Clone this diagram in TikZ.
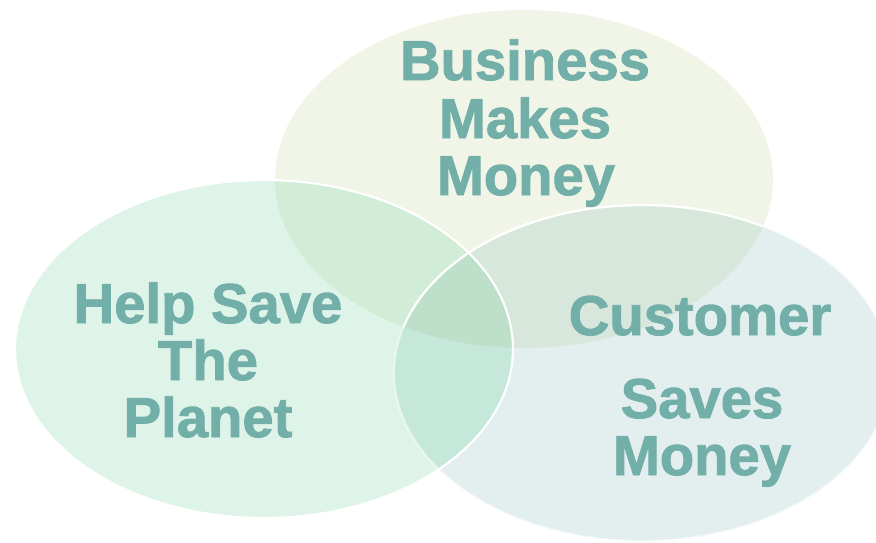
\documentclass[tikz,border=0pt]{standalone}
\usepackage{fontspec}
\setmainfont{Liberation Sans}[BoldFeatures={FakeBold=1.6}]
\usepackage{xcolor}
\usepackage{tikz}
\usetikzlibrary{positioning}

\definecolor{topfill}{HTML}{F0F5E8}
\definecolor{leftfill}{HTML}{DFF4E9}
\definecolor{rightfill}{HTML}{E3EFEE}
\definecolor{tlfill}{HTML}{D1ECD7}
\definecolor{trfill}{HTML}{D8E7DC}
\definecolor{lrfill}{HTML}{C6E8DA}
\definecolor{tlrfill}{HTML}{BEE0CB}
\definecolor{labelteal}{RGB}{114,175,169}

\def\toppath{(524,179) ellipse [x radius=4.98cm, y radius=3.38cm]}
\def\leftpath{(264,349) ellipse [x radius=4.98cm, y radius=3.38cm]}
\def\rightpath{(642,373) ellipse [x radius=4.96cm, y radius=3.36cm]}

\begin{document}
\begin{tikzpicture}[x=0.02cm, y=-0.02cm,
    venntext/.style={anchor=base, text=labelteal, inner sep=0pt,
      font=\bfseries\fontsize{32}{32}\selectfont}]
\useasboundingbox (0,0) rectangle (876,542);

% single sets
\fill[topfill] \toppath;
\fill[leftfill] \leftpath;
\fill[rightfill] \rightpath;

% left and right overlap
\begin{scope}
  \clip \leftpath;
  \fill[lrfill] \rightpath;
\end{scope}

% overlaps with the top set
\begin{scope}
  \clip \toppath;
  \fill[tlfill] \leftpath;
  \fill[trfill] \rightpath;
  \clip \leftpath;
  \fill[tlrfill] \rightpath;
\end{scope}

% white outlines
\draw[white, line width=1.2pt, opacity=0.5] \rightpath;
\begin{scope}
  \clip \toppath;
  \draw[white, line width=1.2pt] \rightpath;
\end{scope}
\draw[white, line width=1.2pt] \leftpath;

% labels
\node[venntext] (business) at (525,80) {Business};
\node[venntext] (makes) at (525,138) {Makes};
\node[venntext] (money1) at (526,195) {Money};

\node[venntext] (help) at (208,323) {Help Save};
\node[venntext] (the) at (208,380) {The};
\node[venntext] (planet) at (208,437) {Planet};

\node[venntext] (customer) at (700,335) {Customer};
\node[venntext] (saves) at (702,418) {Saves};
\node[venntext] (money2) at (702,475) {Money};
\end{tikzpicture}
\end{document}
